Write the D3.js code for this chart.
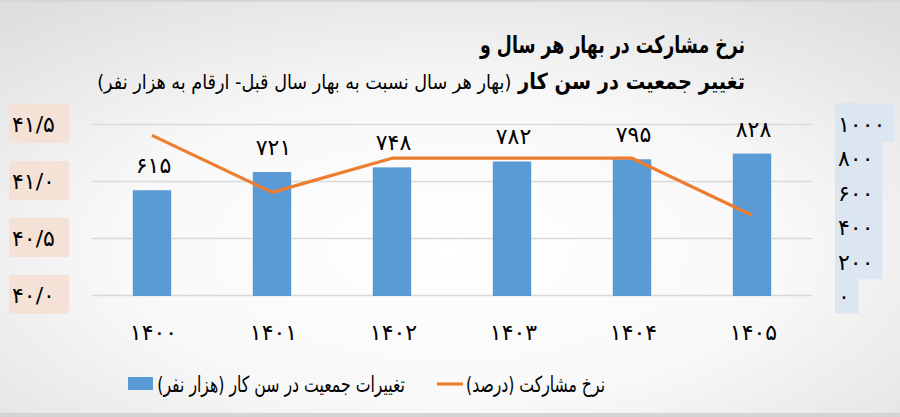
<!DOCTYPE html>
<html>
<head>
<meta charset="utf-8">
<script src="https://cdn.jsdelivr.net/npm/d3@7"></script>
<style>
  html, body { margin: 0; padding: 0; }
  body { width: 900px; height: 417px; overflow: hidden; }
  text { font-family: "DejaVu Sans", sans-serif; fill: #000; }
  .num { font-size: 22px; letter-spacing: 3px; }
</style>
</head>
<body>
<script>
/* dati */
var years = ["1400", "1401", "1402", "1403", "1404", "1405"];
var populationChange = [615, 721, 748, 782, 795, 828];   // هزار نفر
var participationRate = [41.4, 40.9, 41.2, 41.2, 41.2, 40.7]; // درصد
var leftTicks = [40.0, 40.5, 41.0, 41.5];
var rightTicks = [0, 200, 400, 600, 800, 1000];

var titleLine1 = "نرخ مشارکت در بهار هر سال و";
var titleLine2a = "تغییر جمعیت در سن کار ";
var titleLine2b = "(بهار هر سال نسبت به بهار سال قبل- ارقام به هزار نفر)";
var legendBar = "تغییرات جمعیت در سن کار (هزار نفر)";
var legendLine = "نرخ مشارکت (درصد)";

var w = 900;
var h = 417;

// cifre persiane
function fa(s) {
    return String(s).replace(/[0-9]/g, function(d) { return "۰۱۲۳۴۵۶۷۸۹"[d]; });
}

// schiaccia il testo in orizzontale per farlo stare nella larghezza voluta
function fitWidth(sel, target, ax) {
    var len = sel.node().getComputedTextLength();
    if (len > 0) {
        var k = target / len;
        sel.attr("transform", "translate(" + ax + ",0) scale(" + k + ",1) translate(" + (-ax) + ",0)");
    }
}

var svg = d3.select("body").append("svg")
    .attr("width", w)
    .attr("height", h);

// sfondo con gradiente radiale
var defs = svg.append("defs");
var grad = defs.append("radialGradient")
    .attr("id", "bg")
    .attr("cx", "50%").attr("cy", "60%").attr("r", "75%");
grad.append("stop").attr("offset", "0%").attr("stop-color", "#ffffff");
grad.append("stop").attr("offset", "50%").attr("stop-color", "#f8f8f8");
grad.append("stop").attr("offset", "100%").attr("stop-color", "#dedede");

svg.append("rect").attr("width", w).attr("height", h).attr("fill", "url(#bg)");
svg.append("rect").attr("width", w).attr("height", 2).attr("fill", "#d6d6d6");
svg.append("rect").attr("y", 413).attr("width", w).attr("height", 4).attr("fill", "#d4d4d4");

// scale
var xScale = d3.scaleBand()
    .domain(years)
    .range([92, 812])
    .paddingInner(0.68)
    .paddingOuter(0.34);

var yRight = d3.scaleLinear()
    .domain([0, 1000])
    .range([296, 124]);

var yLeft = d3.scaleLinear()
    .domain([40, 41.5])
    .range([295, 124]);

// griglia
svg.append("g")
    .selectAll("line")
    .data(leftTicks)
    .enter()
    .append("line")
    .attr("x1", 92)
    .attr("x2", 812)
    .attr("y1", function(d) { return Math.round(yLeft(d)) + 0.5; })
    .attr("y2", function(d) { return Math.round(yLeft(d)) + 0.5; })
    .attr("stroke", "#d9d9d9")
    .attr("stroke-width", 1.3);

// asse sinistro con sfondo pesca
var leftG = svg.append("g");
leftG.selectAll("rect")
    .data(leftTicks)
    .enter()
    .append("rect")
    .attr("x", 9)
    .attr("y", function(d) { return yLeft(d) - 20; })
    .attr("width", 60)
    .attr("height", 39)
    .attr("fill", "#f5e2d6");
leftG.selectAll("text")
    .data(leftTicks)
    .enter()
    .append("text")
    .attr("class", "num")
    .attr("x", 12)
    .attr("y", function(d) { return yLeft(d); })
    .attr("dy", "0.36em")
    .attr("direction", "ltr")
    .text(function(d) { return fa(d3.format(".1f")(d).replace(".", "/")); });

// asse destro con sfondo azzurro
var rightG = svg.append("g");
var rightLabels = rightG.selectAll("text")
    .data(rightTicks)
    .enter()
    .append("text")
    .attr("class", "num")
    .attr("x", 838)
    .attr("y", function(d) { return yRight(d); })
    .attr("dy", "0.36em")
    .attr("direction", "ltr")
    .text(function(d) { return fa(d); });

rightLabels.each(function(d, i) {
    var tw = this.getComputedTextLength();
    var top = i === rightTicks.length - 1 ? 103 : (yRight(rightTicks[i + 1]) + yRight(d)) / 2;
    var bottom = i === 0 ? 313 : (yRight(rightTicks[i - 1]) + yRight(d)) / 2;
    rightG.insert("rect", "text")
        .attr("x", 835)
        .attr("y", top)
        .attr("width", tw + 12)
        .attr("height", bottom - top + 0.5)
        .attr("fill", "#dbe6f1");
});

// barre
svg.append("g")
    .selectAll("rect")
    .data(populationChange)
    .enter()
    .append("rect")
    .attr("x", function(d, i) { return xScale(years[i]); })
    .attr("y", function(d) { return yRight(d); })
    .attr("width", xScale.bandwidth())
    .attr("height", function(d) { return yRight(0) - yRight(d); })
    .attr("fill", "#5b9bd5");

// etichette delle barre
svg.append("g")
    .selectAll("text")
    .data(populationChange)
    .enter()
    .append("text")
    .attr("class", "num")
    .attr("x", function(d, i) { return xScale(years[i]) + xScale.bandwidth() / 2 + 1.5; })
    .attr("y", function(d) { return yRight(d) - 25; })
    .attr("dy", "0.36em")
    .attr("text-anchor", "middle")
    .attr("direction", "ltr")
    .text(function(d) { return fa(d); });

// linea
var line = d3.line()
    .x(function(d, i) { return xScale(years[i]) + xScale.bandwidth() / 2; })
    .y(function(d) { return yLeft(d); });

svg.append("path")
    .datum(participationRate)
    .attr("d", line)
    .attr("fill", "none")
    .attr("stroke", "#ed7d31")
    .attr("stroke-width", 3.2)
    .attr("stroke-linejoin", "round");

// etichette asse x
svg.append("g")
    .selectAll("text")
    .data(years)
    .enter()
    .append("text")
    .attr("class", "num")
    .attr("x", function(d) { return xScale(d) + xScale.bandwidth() / 2 + 1.5; })
    .attr("y", 332)
    .attr("dy", "0.36em")
    .attr("text-anchor", "middle")
    .attr("direction", "ltr")
    .text(function(d) { return fa(d); });

// titolo
var t1 = svg.append("text")
    .attr("x", 745)
    .attr("y", 53)
    .attr("direction", "rtl")
    .attr("text-anchor", "start")
    .style("font-size", "24px")
    .style("font-weight", "bold")
    .text(titleLine1);
fitWidth(t1, 265, 745);

var t2 = svg.append("text")
    .attr("x", 745)
    .attr("y", 89)
    .attr("direction", "rtl")
    .attr("text-anchor", "start")
    .style("font-size", "20px");
t2.append("tspan").style("font-weight", "bold").style("font-size", "22px").text(titleLine2a);
t2.append("tspan").text(titleLine2b);
fitWidth(t2, 648, 745);

// legenda
svg.append("rect")
    .attr("x", 128).attr("y", 377)
    .attr("width", 25).attr("height", 13)
    .attr("fill", "#5b9bd5");
var l1 = svg.append("text")
    .attr("x", 405)
    .attr("y", 392)
    .attr("direction", "rtl")
    .attr("text-anchor", "start")
    .style("font-size", "22px")
    .text(legendBar);
fitWidth(l1, 248, 405);

svg.append("line")
    .attr("x1", 437).attr("x2", 463)
    .attr("y1", 384).attr("y2", 384)
    .attr("stroke", "#ed7d31")
    .attr("stroke-width", 3.2);
var l2 = svg.append("text")
    .attr("x", 605)
    .attr("y", 392)
    .attr("direction", "rtl")
    .attr("text-anchor", "start")
    .style("font-size", "22px")
    .text(legendLine);
fitWidth(l2, 139, 605);
</script>
</body>
</html>
